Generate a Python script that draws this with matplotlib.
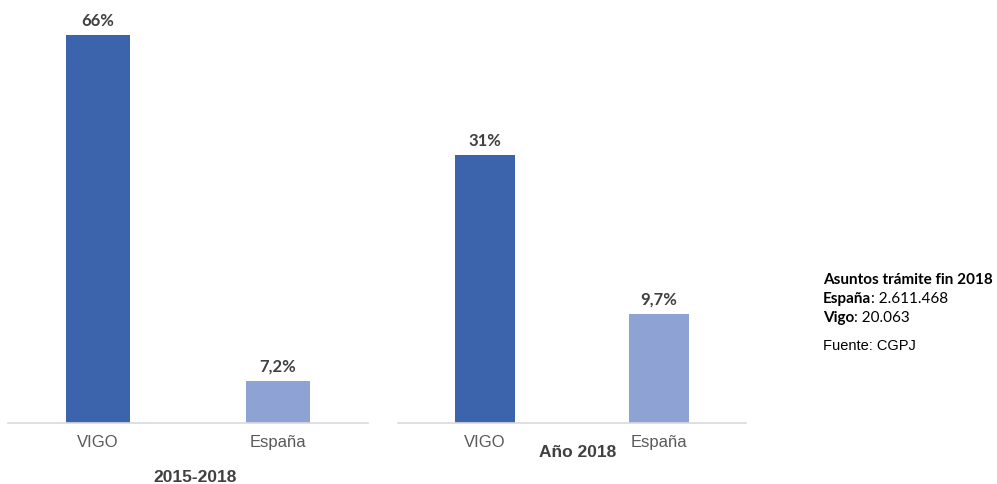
import matplotlib
matplotlib.use("Agg")
import matplotlib.pyplot as plt

categories = ["VIGO", "España"]
values_2015_2018 = [66, 7.2]
labels_2015_2018 = ["66%", "7,2%"]
values_2018 = [31, 9.7]
labels_2018 = ["31%", "9,7%"]
titles = ["2015-2018", "Año 2018"]
note_lines = [("Asuntos trámite fin 2018", None), ("España", ": 2.611.468"), ("Vigo", ": 20.063")]
source = "Fuente: CGPJ"

W, H = 997, 485
fig = plt.figure(figsize=(W / 100, H / 100), dpi=100)
fig.patch.set_facecolor("white")

colors = ["#3B64AD", "#8FA2D4"]
label_color = "#404040"
tick_color = "#595959"

def fx(px):
    return px / W

def fy(py):
    return 1 - py / H

def make_axes(x0, x1, ymin, ymax, vals, labs, width):
    ax = fig.add_axes([fx(x0), fy(424), fx(x1) - fx(x0), 424 / H])
    ax.set_xlim(-0.5, 1.5)
    ax.set_ylim(ymin, ymax)
    xs = list(range(len(categories)))
    ax.bar(xs, [v - ymin for v in vals], bottom=ymin, width=width, color=colors)
    for x, v, l in zip(xs, vals, labs):
        ax.annotate(l, (x, v), xytext=(0, 5), textcoords="offset points",
                    ha="center", va="bottom", fontsize=12, fontweight="bold",
                    family="Lato", color=label_color)
    for s in ["top", "right", "left"]:
        ax.spines[s].set_visible(False)
    ax.spines["bottom"].set_color("#D9D9D9")
    ax.spines["bottom"].set_linewidth(1.2)
    ax.set_yticks([])
    ax.set_xticks(xs)
    ax.set_xticklabels(categories, fontsize=12, family="Liberation Sans", color=tick_color)
    ax.tick_params(axis="x", length=0, pad=8)
    ax.patch.set_alpha(0)
    return ax

ax1 = make_axes(8, 368, 0, 72.1, values_2015_2018, labels_2015_2018, 0.36)
ax2 = make_axes(398, 746, -5, 51.96, values_2018, labels_2018, 0.35)

fig.text(fx(195), fy(478), titles[0], ha="center", va="center", fontsize=12.5,
         fontweight="bold", family="Liberation Sans", color=label_color)
fig.text(fx(578), fy(453), titles[1], ha="center", va="center", fontsize=12.5,
         fontweight="bold", family="Liberation Sans", color=label_color)

ys = [280, 299, 318]
for (bold, rest), y in zip(note_lines, ys):
    t = fig.text(fx(823), fy(y), bold, ha="left", va="center", fontsize=11,
                 fontweight="bold", family="Lato", color="black")
    if rest:
        fig.canvas.draw()
        bb = t.get_window_extent()
        fig.text(bb.x1 / W, fy(y), rest, ha="left", va="center", fontsize=11,
                 family="Lato", color="black")
fig.text(fx(823), fy(346), source, ha="left", va="center", fontsize=10.5,
         family="Liberation Sans", color="black")

fig.savefig("out.png", dpi=100)
